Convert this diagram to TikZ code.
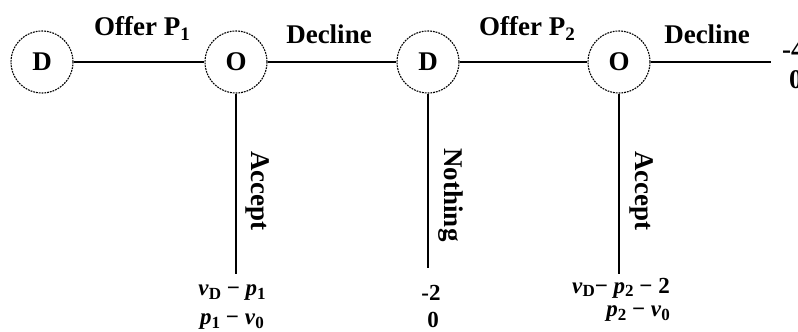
\documentclass[tikz,border=0pt]{standalone}
\usepackage{fontspec}
\setmainfont{Liberation Serif}
\newcommand{\lowsub}[1]{\raisebox{-0.45ex}{\fontsize{19}{20}\selectfont #1}}
\newcommand{\psub}[1]{\raisebox{-0.3ex}{\fontsize{17}{18}\selectfont #1}}
\begin{document}
\begin{tikzpicture}[x=1pt,y=-1pt,
  state/.style={circle,draw,dash pattern=on 1.8pt off 1pt,line width=1.1pt,minimum size=62pt,inner sep=0pt,font=\fontsize{27}{29}\selectfont\bfseries},
  lbl/.style={font=\fontsize{27}{29}\selectfont\bfseries,inner sep=0pt},
  vlbl/.style={lbl,rotate=-90},
  pay/.style={font=\fontsize{23}{25}\selectfont\bfseries,inner sep=0pt},
  edge/.style={line width=1.1pt}]
\clip (0,0) rectangle (798,332);
\node[state] (d1) at (42,62) {D};
\node[state] (o1) at (236,62) {O};
\node[state] (d2) at (428,62) {D};
\node[state] (o2) at (619,62) {O};
\coordinate (e1) at (771,62);
\coordinate (a1) at (236,274);
\coordinate (n2) at (428,268);
\coordinate (a2) at (619,274);
\draw[edge] (d1) -- (o1);
\draw[edge] (o1) -- (d2);
\draw[edge] (d2) -- (o2);
\draw[edge] (o2) -- (e1);
\draw[edge] (o1) -- (a1);
\draw[edge] (d2) -- (n2);
\draw[edge] (o2) -- (a2);
\node[lbl,anchor=base] (l1) at (142,35) {Offer P\lowsub{1}};
\node[lbl,anchor=base] (l2) at (329,43) {Decline};
\node[lbl,anchor=base] (l3) at (527,35) {Offer P\lowsub{2}};
\node[lbl,anchor=base] (l4) at (707,43) {Decline};
\node[vlbl] (v1) at (258,191) {Accept};
\node[vlbl] (v2) at (451,195) {Nothing};
\node[vlbl] (v3) at (642,191) {Accept};
\node[lbl,anchor=base west] (t1) at (782,58) {-4};
\node[lbl,anchor=base west] (t2) at (789,88) {0};
\node[pay] (p1) at (232,293) {\textit{v}\psub{D} − \textit{p}\psub{1}};
\node[pay] (p2) at (232,322) {\textit{p}\psub{1} − \textit{v}\psub{0}};
\node[pay] (p3) at (431,293) {-2};
\node[pay] (p4) at (433,320) {0};
\node[pay,anchor=east] (p5) at (670,288) {\textit{v}\psub{D}− \textit{p}\psub{2} − 2};
\node[pay,anchor=east] (p6) at (670,314) {\textit{p}\psub{2} − \textit{v}\psub{0}};
\end{tikzpicture}
\end{document}
